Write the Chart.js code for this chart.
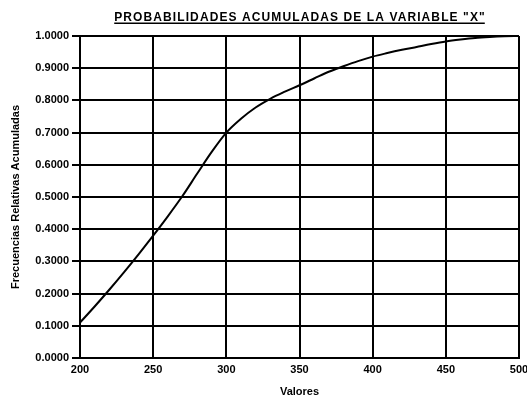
<!DOCTYPE html>
<html>
<head>
<meta charset="utf-8">
<script src="https://cdn.jsdelivr.net/npm/chart.js@4/dist/chart.umd.min.js"></script>
<style>
  html, body { margin: 0; padding: 0; background: #ffffff; }
  #wrap { width: 527px; height: 404px; }
</style>
</head>
<body>
<div id="wrap"><canvas id="c" width="527" height="404"></canvas></div>
<script>
// Cumulative relative frequency of the variable X
const valores = [200, 210, 220, 230, 240, 250, 260, 270, 280, 290,
                 300, 310, 320, 330, 340, 350, 360, 370, 380, 390,
                 400, 410, 420, 430, 440, 450, 460, 470, 480, 490, 500];
const frecuencias = [0.110, 0.160, 0.212, 0.266, 0.322, 0.380, 0.440, 0.503, 0.572, 0.640,
                     0.700, 0.743, 0.778, 0.805, 0.827, 0.847, 0.868, 0.889, 0.906, 0.922,
                     0.936, 0.947, 0.957, 0.966, 0.975, 0.983, 0.989, 0.994, 0.997, 0.999, 1.000];
const xTicks = [200, 250, 300, 350, 400, 450, 500];
const yTicks = [0, 0.1, 0.2, 0.3, 0.4, 0.5, 0.6, 0.7, 0.8, 0.9, 1.0];

const titulo = 'PROBABILIDADES ACUMULADAS DE LA VARIABLE "X"';
const tituloX = 'Valores';
const tituloY = 'Frecuencias Relativas Acumuladas';

const FONT = '"Liberation Sans", Arial, sans-serif';

// Underlined chart heading centred over the plot area
const encabezado = {
  id: 'encabezado',
  afterDraw(chart) {
    const { ctx, chartArea } = chart;
    const cx = (chartArea.left + chartArea.right) / 2;
    ctx.save();
    ctx.font = 'bold 12px ' + FONT;
    ctx.letterSpacing = '1.1px';
    ctx.fillStyle = '#000';
    ctx.textAlign = 'left';
    ctx.textBaseline = 'alphabetic';
    const w = ctx.measureText(titulo).width - 1;
    const x0 = cx - w / 2;
    ctx.fillText(titulo, x0, 21);
    ctx.fillRect(x0, 22.5, w, 1.5);
    ctx.restore();
  }
};

const datos = valores.map((v, i) => ({ x: v, y: frecuencias[i] }));

new Chart(document.getElementById('c'), {
  type: 'line',
  data: {
    datasets: [{
      data: datos,
      borderColor: '#000',
      borderWidth: 2,
      pointRadius: 0,
      fill: false,
      cubicInterpolationMode: 'monotone'
    }]
  },
  options: {
    responsive: false,
    animation: false,
    devicePixelRatio: 1,
    layout: { padding: { top: 36, right: 8, left: 0, bottom: 0 } },
    plugins: { legend: { display: false }, tooltip: { enabled: false }, title: { display: false } },
    scales: {
      x: {
        type: 'linear',
        min: 200, max: 500,
        afterBuildTicks(scale) { scale.ticks = xTicks.map(v => ({ value: v })); },
        afterFit(scale) { scale.height = 46; scale.paddingLeft = 0; scale.paddingRight = 0; },
        ticks: {
          color: '#000', padding: 5, maxRotation: 0,
          font: { family: FONT, size: 11, weight: 'bold' }
        },
        grid: { color: '#000', lineWidth: 2, drawTicks: false },
        border: { display: true, color: '#000', width: 2 },
        title: {
          display: true, text: tituloX, color: '#000',
          font: { family: FONT, size: 11, weight: 'bold' },
          padding: { top: 2, bottom: 5 }
        }
      },
      y: {
        type: 'linear',
        min: 0, max: 1,
        afterBuildTicks(scale) { scale.ticks = yTicks.map(v => ({ value: v })); },
        afterFit(scale) { scale.width = 80; scale.paddingTop = 0; scale.paddingBottom = 0; },
        ticks: {
          color: '#000', padding: 3,
          font: { family: FONT, size: 11, weight: 'bold' },
          callback: v => Number(v).toFixed(4)
        },
        grid: { color: '#000', lineWidth: 2, drawTicks: true, tickLength: 8 },
        border: { display: true, color: '#000', width: 2 },
        title: {
          display: true, text: tituloY, color: '#000',
          font: { family: FONT, size: 11, weight: 'bold' },
          padding: { top: 9, bottom: 2 }
        }
      }
    }
  },
  plugins: [encabezado]
});
</script>
</body>
</html>
